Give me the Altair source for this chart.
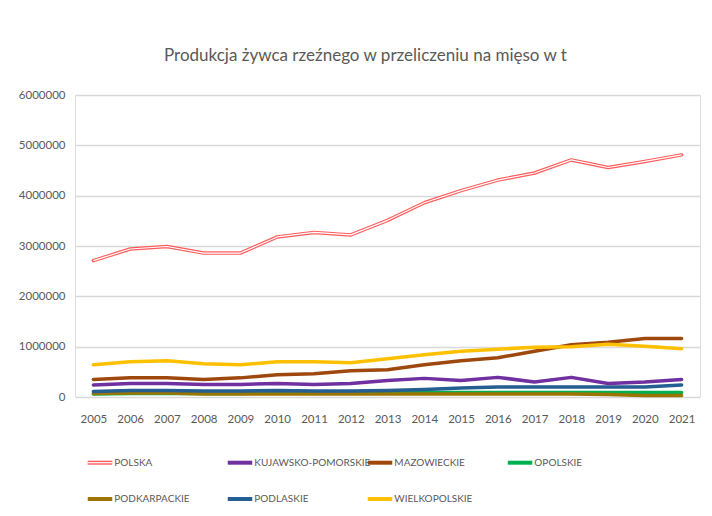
import altair as alt
import pandas as pd

years = [str(y) for y in range(2005, 2022)]
series = ["POLSKA", "KUJAWSKO-POMORSKIE", "MAZOWIECKIE", "OPOLSKIE",
          "PODKARPACKIE", "PODLASKIE", "WIELKOPOLSKIE"]
colors = ["#FF5B5B", "#7030A0", "#9E480E", "#00B050", "#9C7400", "#255E91", "#FFC000"]

polska = [2710000, 2940000, 2990000, 2860000, 2860000, 3180000, 3270000, 3220000, 3510000,
          3860000, 4100000, 4310000, 4450000, 4710000, 4560000, 4680000, 4810000]
kujawsko = [240000, 270000, 270000, 250000, 250000, 270000, 250000, 270000, 330000,
            370000, 330000, 390000, 300000, 390000, 270000, 300000, 350000]
mazowieckie = [350000, 380000, 380000, 350000, 380000, 440000, 460000, 520000, 540000,
               640000, 720000, 780000, 910000, 1040000, 1090000, 1160000, 1160000]
opolskie = [60000, 70000, 70000, 70000, 70000, 80000, 80000, 80000, 80000,
            90000, 90000, 90000, 90000, 90000, 90000, 90000, 90000]
podkarpackie = [70000, 80000, 80000, 60000, 60000, 60000, 60000, 60000, 60000,
                60000, 60000, 60000, 60000, 60000, 50000, 30000, 30000]
podlaskie = [110000, 130000, 130000, 120000, 120000, 130000, 120000, 120000, 130000,
             150000, 180000, 200000, 200000, 200000, 200000, 200000, 240000]
wielkopolskie = [640000, 700000, 720000, 660000, 640000, 700000, 700000, 680000, 760000,
                 840000, 910000, 950000, 990000, 1000000, 1050000, 1010000, 960000]

values = [polska, kujawsko, mazowieckie, opolskie, podkarpackie, podlaskie, wielkopolskie]
rows = []
for si, (name, vals) in enumerate(zip(series, values)):
    for y, v in zip(years, vals):
        rows.append({"rok": y, "seria": name, "wartosc": v, "kolejnosc": si})
df = pd.DataFrame(rows)

# legend table (4 columns, row-major like the original)
leg = pd.DataFrame({
    "seria": series,
    "kolor": colors,
    "kol": [i % 4 for i in range(len(series))],
    "wiersz": [-(i // 4) for i in range(len(series))],
})
leg["x0"] = leg["kol"]
leg["x1"] = leg["kol"] + 0.175
leg["xt"] = leg["kol"] + 0.19

FONT = "Lato"
GRAY = "#595959"

x = alt.X("rok:O", title=None, sort=years,
          scale=alt.Scale(type="point", padding=0.5),
          axis=alt.Axis(labelAngle=0, ticks=False, domain=False, grid=False,
                        labelPadding=16, labelFontSize=11.5, labelColor=GRAY, labelFont=FONT))
y = alt.Y("wartosc:Q", title=None,
          scale=alt.Scale(domain=[0, 6000000], nice=False),
          axis=alt.Axis(values=[0, 1000000, 2000000, 3000000, 4000000, 5000000, 6000000],
                        format="d", ticks=False, domain=False, gridColor="#D9D9D9",
                        gridWidth=1.5, labelPadding=10, labelFontSize=11.5,
                        labelColor=GRAY, labelFont=FONT))

lines = alt.Chart(df).mark_line(strokeWidth=3.5, strokeCap="round", strokeJoin="round").encode(
    x=x, y=y,
    color=alt.Color("seria:N", sort=series,
                    scale=alt.Scale(domain=series, range=colors), legend=None),
    order=alt.Order("kolejnosc:Q"),
)

white = alt.Chart(df).transform_filter(alt.datum.seria == "POLSKA").mark_line(
    strokeWidth=1.2, color="white", strokeJoin="round").encode(x=x, y=y)

main = alt.layer(lines, white)

# manual legend placed below the plot through its own scales
lx = alt.Scale(domain=[-0.091, 4.373], nice=False, zero=False)
ly = alt.Scale(domain=[1.81, 10.13], nice=False, zero=False)

leg_base = alt.Chart(leg)
leg_sym = leg_base.mark_rule(strokeWidth=4).encode(
    x=alt.X("x0:Q", scale=lx, axis=None), x2="x1:Q",
    y=alt.Y("wiersz:Q", scale=ly, axis=None),
    color=alt.Color("kolor:N", scale=None),
)
leg_sym_white = leg_base.transform_filter(alt.datum.seria == "POLSKA").mark_rule(
    strokeWidth=1.2, color="white").encode(
    x=alt.X("x0:Q", scale=lx, axis=None), x2="x1:Q",
    y=alt.Y("wiersz:Q", scale=ly, axis=None),
)
leg_txt = leg_base.mark_text(align="left", baseline="middle", font=FONT, fontSize=10,
                             color=GRAY).encode(
    x=alt.X("xt:Q", scale=lx, axis=None),
    y=alt.Y("wiersz:Q", scale=ly, axis=None),
    text="seria:N",
)
legend = alt.layer(leg_sym, leg_sym_white, leg_txt)

chart = alt.layer(main, legend).resolve_scale(
    x="independent", y="independent", color="independent"
).properties(
    width=625, height=302,
    title=alt.TitleParams("Produkcja żywca rzeźnego w przeliczeniu na mięso w t",
                          font=FONT, fontSize=17, fontWeight="normal", color=GRAY,
                          anchor="middle", dx=-22, offset=24),
    autosize=alt.AutoSizeParams(type="none"),
    padding={"left": 67, "top": 87, "right": 4, "bottom": 115},
).configure_view(stroke=None).configure(background="white")

chart.save("out.html", embed_options={"renderer": "svg", "actions": False})
